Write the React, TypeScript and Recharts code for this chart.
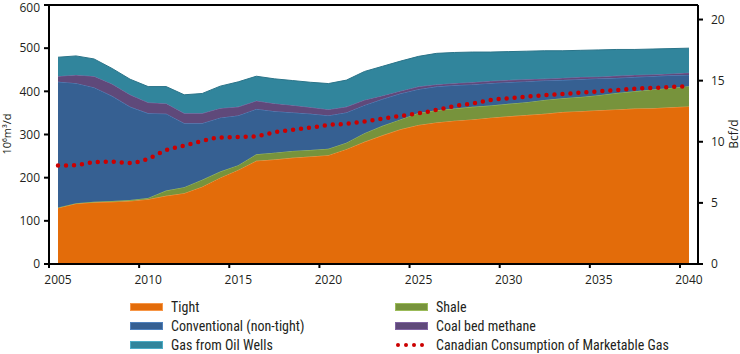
import { Area, ComposedChart, Line, ReferenceLine, XAxis, YAxis } from 'recharts'

const years = [
  2005, 2006, 2007, 2008, 2009, 2010, 2011, 2012, 2013, 2014, 2015, 2016, 2017, 2018, 2019, 2020, 2021, 2022,
  2023, 2024, 2025, 2026, 2027, 2028, 2029, 2030, 2031, 2032, 2033, 2034, 2035, 2036, 2037, 2038, 2039, 2040,
]
const tight = [
  130, 140, 143, 144, 146, 150, 158, 164, 179, 200, 218, 239, 242, 246, 249, 252, 266, 283,
  298, 312, 322, 328, 332, 335, 339, 342, 345, 348, 352, 354, 356, 358, 360, 361, 363, 365,
]
const shale = [
  1, 1, 1, 2, 2, 3, 12, 14, 16, 14, 11, 15, 16, 16, 15, 15, 15, 20,
  22, 23, 28, 28, 28, 29, 28, 29, 30, 32, 32, 33, 35, 38, 40, 43, 45, 47,
]
const conventional = [
  291, 278, 265, 243, 216, 196, 178, 148, 131, 125, 115, 105, 96, 89, 84, 77, 70, 65,
  62, 60, 55, 55, 54, 52, 52, 50, 48, 45, 42, 41, 39, 35, 33, 31, 29, 26,
]
const coalBed = [
  13, 19, 26, 28, 28, 25, 24, 23, 23, 22, 20, 19, 18, 17, 15, 14, 13, 12,
  8, 6, 6, 5, 5, 5, 5, 5, 5, 4, 5, 5, 4, 5, 5, 4, 4, 5,
]
const oilWells = [
  44, 44, 40, 36, 36, 37, 39, 43, 46, 51, 58, 57, 57, 57, 58, 60, 62, 66,
  68, 69, 70, 72, 71, 70, 67, 66, 65, 65, 63, 62, 62, 61, 59, 59, 58, 57,
]
const consumption = [
  228, 229, 236, 237, 234, 244, 264, 274, 285, 293, 294, 296, 305, 311, 316, 322, 325, 330,
  337, 343, 349, 357, 366, 372, 380, 384, 388, 391, 394, 397, 400, 403, 406, 408, 410, 412,
]
const xTicks = [2005, 2010, 2015, 2020, 2025, 2030, 2035, 2040]
const leftTicks = [0, 100, 200, 300, 400, 500, 600]
const rightTicks = [0, 5, 10, 15, 20]
const BCF_PER_MM3 = 0.0353147

const data = years.map((year, i) => ({
  year,
  tight: tight[i],
  shale: shale[i],
  conventional: conventional[i],
  coalBed: coalBed[i],
  oilWells: oilWells[i],
  consumption: consumption[i],
  consumptionBcf: consumption[i] * BCF_PER_MM3,
}))

const FONT = '"Open Sans", "DejaVu Sans", sans-serif'
const LEGEND_FONT = '"Liberation Sans Narrow", "Roboto Condensed", Lato, sans-serif'
const INK = '#231f20'

const legendItems = [
  { label: 'Tight', fill: '#e36c0a', border: '#f79646', col: 0, row: 0 },
  { label: 'Conventional (non-tight)', fill: '#366092', border: '#4f81bd', col: 0, row: 1 },
  { label: 'Gas from Oil Wells', fill: '#31859c', border: '#4bacc6', col: 0, row: 2 },
  { label: 'Shale', fill: '#77933c', border: '#9bbb59', col: 1, row: 0 },
  { label: 'Coal bed methane', fill: '#5f497a', border: '#8064a2', col: 1, row: 1 },
  { label: 'Canadian Consumption of Marketable Gas', fill: '', border: '', col: 1, row: 2, dots: true },
]

function ChartLegend() {
  return (
    <>
      {legendItems.map((item) => (
        <div
          key={item.label}
          style={{
            position: 'absolute',
            left: item.col === 0 ? 130 : 395,
            top: 298 + item.row * 19,
            height: 18,
            display: 'flex',
            alignItems: 'center',
            fontFamily: LEGEND_FONT,
            fontSize: 14,
            color: INK,
            whiteSpace: 'nowrap',
          }}
        >
          {item.dots ? (
            <svg width={33} height={8} style={{ marginRight: 8 }}>
              {[3, 11, 19, 27].map((cx) => (
                <circle key={cx} cx={cx} cy={4} r={2} fill="#cc0000" />
              ))}
            </svg>
          ) : (
            <span
              style={{
                display: 'inline-block',
                width: 31,
                height: 6,
                background: item.fill,
                border: `1px solid ${item.border}`,
                marginRight: 8,
              }}
            />
          )}
          {item.label}
        </div>
      ))}
    </>
  )
}

export default function App() {
  const tick = { fill: INK, fontSize: 12, fontFamily: FONT }
  return (
    <div style={{ position: 'absolute', left: 0, top: 0, width: 740, height: 354, background: '#fff' }}>
      <ComposedChart width={740} height={290} data={data} margin={{ top: 5, right: 0, left: 0, bottom: 0 }}>
        <XAxis
          type="number"
          dataKey={(d: { year: number }) => d.year + 0.5}
          domain={[2005, 2041]}
          ticks={xTicks}
          allowDataOverflow
          height={26}
          stroke="#000"
          strokeWidth={2}
          tickSize={4}
          tick={{ ...tick, dx: 9 }}
          tickMargin={7}
        />
        <YAxis
          yAxisId="left"
          domain={[0, 600]}
          ticks={leftTicks}
          width={49}
          stroke="#000"
          strokeWidth={2}
          tickSize={5}
          tick={tick}
          tickMargin={4}
        />
        <YAxis
          yAxisId="right"
          orientation="right"
          domain={[0, 600 * BCF_PER_MM3]}
          ticks={rightTicks}
          allowDataOverflow
          width={42}
          stroke="#000"
          strokeWidth={2}
          tickSize={5}
          tick={tick}
          tickMargin={8}
        />
        <Area yAxisId="left" type="linear" dataKey="tight" stackId="s" fill="#e36c0a" fillOpacity={1} stroke="#f79646" strokeWidth={1} isAnimationActive={false} />
        <Area yAxisId="left" type="linear" dataKey="shale" stackId="s" fill="#77933c" fillOpacity={1} stroke="#9bbb59" strokeWidth={1} isAnimationActive={false} />
        <Area yAxisId="left" type="linear" dataKey="conventional" stackId="s" fill="#366092" fillOpacity={1} stroke="#4f81bd" strokeWidth={1} isAnimationActive={false} />
        <Area yAxisId="left" type="linear" dataKey="coalBed" stackId="s" fill="#5f497a" fillOpacity={1} stroke="#8064a2" strokeWidth={1} isAnimationActive={false} />
        <Area yAxisId="left" type="linear" dataKey="oilWells" stackId="s" fill="#31859c" fillOpacity={1} stroke="#2b7489" strokeWidth={1} isAnimationActive={false} />
        <Line
          yAxisId="right"
          type="monotone"
          dataKey="consumptionBcf"
          stroke="#cc0000"
          strokeOpacity={0}
          dot={false}
          activeDot={false}
          legendType="none"
          isAnimationActive={false}
        />
        <Line
          yAxisId="left"
          type="monotone"
          dataKey="consumption"
          stroke="#cc0000"
          strokeWidth={4.5}
          strokeLinecap="round"
          strokeDasharray="0 8"
          dot={false}
          activeDot={false}
          isAnimationActive={false}
        />
        <ReferenceLine yAxisId="left" y={600} stroke="#000" strokeWidth={2} />
      </ComposedChart>
      <div
        style={{
          position: 'absolute',
          left: 6,
          top: 134,
          transform: 'translate(-50%, -50%) rotate(-90deg)',
          fontFamily: FONT,
          fontSize: 11,
          color: INK,
          whiteSpace: 'nowrap',
        }}
      >
        10⁶m³/d
      </div>
      <div
        style={{
          position: 'absolute',
          left: 733,
          top: 134,
          transform: 'translate(-50%, -50%) rotate(-90deg)',
          fontFamily: FONT,
          fontSize: 12,
          color: INK,
          whiteSpace: 'nowrap',
        }}
      >
        Bcf/d
      </div>
      <ChartLegend />
    </div>
  )
}
